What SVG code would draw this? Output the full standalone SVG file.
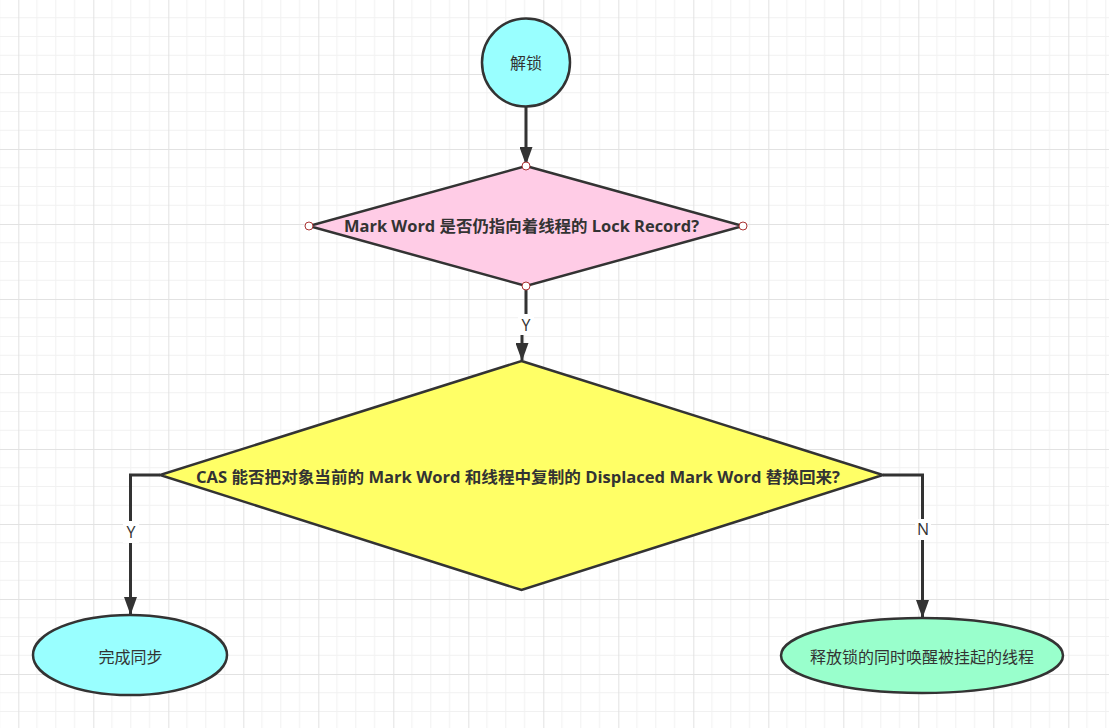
<svg xmlns="http://www.w3.org/2000/svg" width="1109" height="728" viewBox="0 0 1109 728">
<style>
.shape{stroke:#333333;stroke-width:2.5}
.conn{fill:none;stroke:#333333;stroke-width:3}
.t{font-family:"Open Sans","Noto Sans CJK SC",sans-serif;font-size:16px;fill:#333333;text-anchor:middle}
.b{font-weight:bold}
.pt{fill:#ffffff;stroke:#a33;stroke-width:1}
.lbl{fill:#ffffff}
</style>
<defs>
<pattern id="grid" x="18.3" y="-1" width="75" height="75" patternUnits="userSpaceOnUse">
<path d="M18.75,0V75M37.5,0V75M56.25,0V75M0,18.75H75M0,37.5H75M0,56.25H75" stroke="#f1f1f1" stroke-width="1" fill="none"/>
<path d="M0.5,0V75M0,0.5H75" stroke="#e2e2e2" stroke-width="1" fill="none"/>
</pattern>
<marker id="arr" markerUnits="userSpaceOnUse" markerWidth="18" markerHeight="13" refX="17" refY="6.5" orient="auto">
<path d="M0,0 L18,6.5 L0,13 z" fill="#333333"/>
</marker>
</defs>
<rect width="1109" height="728" fill="#ffffff"/>
<rect width="1109" height="728" fill="url(#grid)"/>

<g id="connectors">
<path class="conn" d="M526,107 V164" marker-end="url(#arr)"/>
<path class="conn" d="M526,289 V326 H522 V360" marker-end="url(#arr)"/>
<path class="conn" d="M160,475 H130.5 V614" marker-end="url(#arr)"/>
<path class="conn" d="M883,475 H922.5 V617" marker-end="url(#arr)"/>
<rect class="lbl" x="518" y="314" width="16" height="21"/>
<text class="t" x="526" y="331">Y</text>
<rect class="lbl" x="123" y="521" width="16" height="22"/>
<text class="t" x="131" y="538">Y</text>
<rect class="lbl" x="915" y="519" width="16" height="21"/>
<text class="t" x="923" y="535">N</text>
</g>

<g id="node-unlock">
<circle class="shape" cx="526" cy="62.5" r="44" fill="#99ffff"/>
<text class="t" x="526" y="69">解锁</text>
</g>

<g id="node-check-mark-word">
<polygon class="shape" points="526,166 743,226 526,286 309,226" fill="#ffcce6"/>
<text class="t b" x="521.5" y="232" textLength="355" lengthAdjust="spacingAndGlyphs">Mark Word 是否仍指向着线程的 Lock Record?</text>
<circle class="pt" cx="526" cy="166" r="4"/>
<circle class="pt" cx="743" cy="226" r="4"/>
<circle class="pt" cx="526" cy="286" r="4"/>
<circle class="pt" cx="309" cy="226" r="4"/>
</g>

<g id="node-cas">
<polygon class="shape" points="521.5,361 883,475 521.5,590 160,475" fill="#ffff66"/>
<text class="t b" x="518" y="483" textLength="644" lengthAdjust="spacingAndGlyphs">CAS 能否把对象当前的 Mark Word 和线程中复制的 Displaced Mark Word 替换回来?</text>
</g>

<g id="node-done">
<ellipse class="shape" cx="130" cy="655" rx="97" ry="40" fill="#99ffff"/>
<text class="t" x="130.5" y="663">完成同步</text>
</g>

<g id="node-release">
<ellipse class="shape" cx="922" cy="655.5" rx="141" ry="37.5" fill="#99ffcc"/>
<text class="t" x="922" y="663">释放锁的同时唤醒被挂起的线程</text>
</g>
</svg>
